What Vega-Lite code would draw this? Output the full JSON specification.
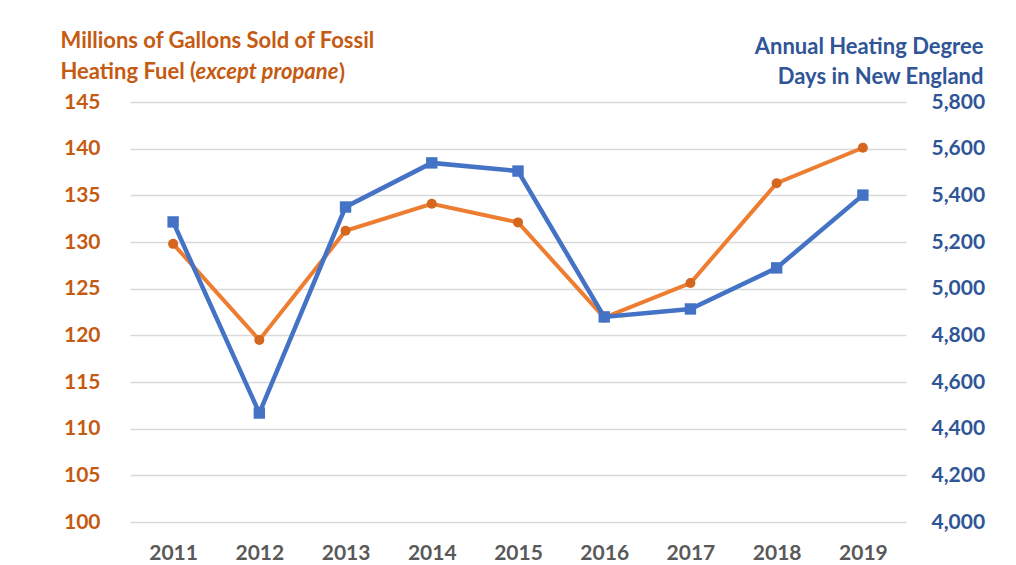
{
  "$schema": "https://vega.github.io/schema/vega-lite/v6.json",
  "width": 776,
  "height": 420,
  "autosize": {"type": "none"},
  "padding": {"left": 130, "top": 102, "right": 110, "bottom": 43},
  "background": "white",
  "title": {"text": ")", "anchor": "start", "frame": "group", "dx": 209, "dy": 73, "offset": 0, "baseline": "alphabetic", "color": "#C55A11", "font": "Lato", "fontSize": 22, "fontWeight": "bold"},
  "data": {"values": [
    {"year": "2011", "fuel": 129.8, "hdd": 5286},
    {"year": "2012", "fuel": 119.5, "hdd": 4467},
    {"year": "2013", "fuel": 131.2, "hdd": 5350},
    {"year": "2014", "fuel": 134.1, "hdd": 5539},
    {"year": "2015", "fuel": 132.1, "hdd": 5504},
    {"year": "2016", "fuel": 121.9, "hdd": 4879},
    {"year": "2017", "fuel": 125.6, "hdd": 4913},
    {"year": "2018", "fuel": 136.3, "hdd": 5089},
    {"year": "2019", "fuel": 140.1, "hdd": 5401}
  ]},
  "encoding": {
    "x": {"field": "year", "type": "ordinal", "axis": {
      "labelAngle": 0, "labelFont": "Lato", "labelFontSize": 21, "labelFontWeight": "bold", "labelColor": "#595959",
      "ticks": false, "domain": false, "labelPadding": 20,
      "title": "except propane", "titleFontStyle": "italic", "titleX": 65, "titleY": -444, "titleAlign": "left", "titleBaseline": "alphabetic",
      "titleColor": "#C55A11", "titleFont": "Lato", "titleFontSize": 22, "titleFontWeight": "bold"
    }}
  },
  "layer": [
    {
      "encoding": {"y": {"field": "fuel", "type": "quantitative", "scale": {"domain": [100, 145]}, "axis": {
        "values": [100, 105, 110, 115, 120, 125, 130, 135, 140, 145],
        "grid": true, "gridColor": "#D9D9D9", "gridWidth": 1.5, "domain": false, "ticks": false,
        "labelPadding": 30, "labelColor": "#C55A11", "labelFont": "Lato", "labelFontSize": 21, "labelFontWeight": "bold",
        "title": ["Millions of Gallons Sold of Fossil", "Heating Fuel ("], "titleAngle": 0, "titleX": -70, "titleY": -55,
        "titleAlign": "left", "titleBaseline": "alphabetic", "titleLineHeight": 31,
        "titleColor": "#C55A11", "titleFont": "Lato", "titleFontSize": 22, "titleFontWeight": "bold"
      }}},
      "layer": [
        {"mark": {"type": "line", "color": "#ED7D31", "strokeWidth": 4}},
        {"mark": {"type": "point", "shape": "circle", "filled": true, "size": 100, "color": "#D4661E", "opacity": 1}}
      ]
    },
    {
      "encoding": {"y": {"field": "hdd", "type": "quantitative", "scale": {"domain": [4000, 5800]}, "axis": {
        "orient": "right",
        "values": [4000, 4200, 4400, 4600, 4800, 5000, 5200, 5400, 5600, 5800], "format": ",.0f",
        "grid": false, "domain": false, "ticks": false,
        "labelPadding": 25, "labelColor": "#2F5597", "labelFont": "Lato", "labelFontSize": 21, "labelFontWeight": "bold",
        "title": ["Annual Heating Degree", "Days  in New England"], "titleAngle": 0, "titleX": 77, "titleY": -49,
        "titleAlign": "right", "titleBaseline": "alphabetic", "titleLineHeight": 30,
        "titleColor": "#2F5597", "titleFont": "Lato", "titleFontSize": 22, "titleFontWeight": "bold"
      }}},
      "layer": [
        {"mark": {"type": "line", "color": "#4472C4", "strokeWidth": 4.5}},
        {"mark": {"type": "point", "shape": "square", "filled": true, "size": 130, "color": "#4472C4", "opacity": 1}}
      ]
    }
  ],
  "resolve": {"scale": {"y": "independent"}},
  "config": {"view": {"stroke": null}}
}
